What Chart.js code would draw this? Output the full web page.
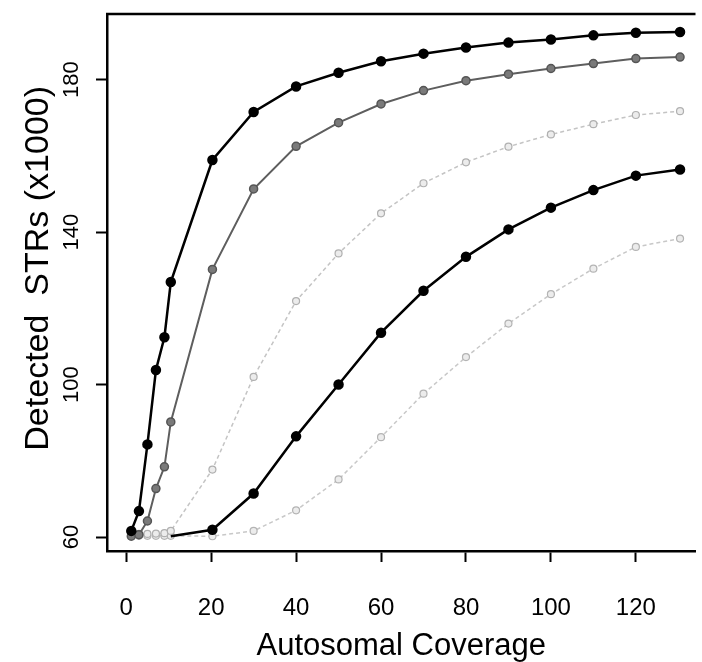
<!DOCTYPE html>
<html>
<head>
<meta charset="utf-8">
<script src="https://cdn.jsdelivr.net/npm/chart.js@4.4.0/dist/chart.umd.min.js"></script>
<style>
  html, body { margin: 0; padding: 0; background: #fff; overflow: hidden; }
  #wrap { width: 702px; height: 662px; }
</style>
</head>
<body>
<div id="wrap"><canvas id="strChart"></canvas></div>
<script>
// coverage values (x) shared by every series
var coverage = [1.2, 3, 5, 7, 9, 10.5, 20.3, 30, 40, 50, 60, 70, 80, 90, 100, 110, 120, 130.4];

// detected STRs (x1000)
var seriesA = [61.6, 66.8, 84.3, 103.8, 112.4, 126.9, 158.9, 171.5, 178.2, 181.8, 184.8, 186.8, 188.4, 189.7, 190.5, 191.6, 192.3, 192.5];
var seriesB = [60.2, 60.6, 64.2, 72.7, 78.4, 90.2, 130.2, 151.3, 162.5, 168.7, 173.6, 177.1, 179.7, 181.4, 182.9, 184.2, 185.5, 185.9];
var seriesC = [60.8, 60.8, 60.8, 60.9, 61.0, 61.6, 77.7, 102.0, 121.9, 134.4, 144.9, 152.8, 158.3, 162.4, 165.6, 168.3, 170.7, 171.7];
var seriesD = [null, null, null, null, null, 60.2, 61.9, 71.4, 86.4, 100.0, 113.6, 124.6, 133.5, 140.7, 146.4, 151.0, 154.8, 156.4];
var seriesE = [60.3, 60.3, 60.3, 60.3, 60.3, 60.3, 60.2, 61.6, 67.0, 75.1, 86.2, 97.6, 107.2, 116.0, 123.7, 130.4, 136.1, 138.3];

var xTicks = [0, 20, 40, 60, 80, 100, 120];
var yTicks = [60, 100, 140, 180];

function pts(values) {
  return coverage.map(function(x, i) { return { x: x, y: values[i] }; });
}

var FONT = '"Liberation Sans", Arial, Helvetica, sans-serif';

// R style frame: top edge of the box (right side is cut off) and
// y tick labels written parallel to the axis
var rFrame = {
  id: 'rFrame',
  afterDraw: function(chart) {
    var a = chart.chartArea, c = chart.ctx, ys = chart.scales.y;
    c.save();
    c.strokeStyle = '#000';
    c.lineWidth = 2.5;
    c.beginPath();
    c.moveTo(a.left - 1, a.top);
    c.lineTo(a.right, a.top);
    c.stroke();

    c.fillStyle = '#000';
    c.font = '22px ' + FONT;
    c.textAlign = 'center';
    c.textBaseline = 'middle';
    yTicks.forEach(function(v) {
      c.save();
      c.translate(ys.left + 72, ys.getPixelForValue(v));
      c.rotate(-Math.PI / 2);
      c.fillText(String(v), 0, 0);
      c.restore();
    });
    c.restore();
  }
};

var ctx = document.getElementById('strChart').getContext('2d');
var myChart = new Chart(ctx, {
  type: 'line',
  data: {
    datasets: [
      {
        data: pts(seriesA),
        borderColor: '#000',
        borderWidth: 2.5,
        pointBackgroundColor: '#000',
        pointBorderColor: '#000',
        pointRadius: 4,
        tension: 0
      },
      {
        data: pts(seriesB),
        borderColor: '#5e5e5e',
        borderWidth: 2,
        pointBackgroundColor: '#7a7a7a',
        pointBorderColor: '#555',
        pointBorderWidth: 1.5,
        pointRadius: 4,
        tension: 0
      },
      {
        data: pts(seriesD),
        borderColor: '#000',
        borderWidth: 2.5,
        pointBackgroundColor: '#000',
        pointBorderColor: '#000',
        // the first point of this curve has no marker in the figure
        pointRadius: function(c) { return c.dataIndex === 5 ? 0 : 4; },
        tension: 0
      },
      {
        data: pts(seriesC),
        borderColor: '#c4c4c4',
        borderWidth: 1.5,
        borderDash: [4, 3],
        pointBackgroundColor: '#ececec',
        pointBorderColor: '#b0b0b0',
        pointBorderWidth: 1.2,
        pointRadius: 3.5,
        tension: 0
      },
      {
        data: pts(seriesE),
        borderColor: '#c8c8c8',
        borderWidth: 1.5,
        borderDash: [4, 3],
        pointBackgroundColor: '#ececec',
        pointBorderColor: '#b4b4b4',
        pointBorderWidth: 1.2,
        pointRadius: 3.5,
        tension: 0
      }
    ]
  },
  options: {
    responsive: true,
    maintainAspectRatio: false,
    animation: false,
    layout: { padding: { top: 14, left: 0, right: 0, bottom: 0 } },
    plugins: {
      legend: { display: false },
      tooltip: { enabled: false }
    },
    scales: {
      x: {
        type: 'linear',
        min: -4.52,
        max: 134.04,
        afterBuildTicks: function(scale) {
          scale.ticks = xTicks.map(function(v) { return { value: v }; });
        },
        afterFit: function(scale) {
          scale.height = 111;
          scale.paddingLeft = 0;
          scale.paddingRight = 0;
        },
        border: { display: true, color: '#000', width: 2.5 },
        grid: {
          drawOnChartArea: false,
          drawTicks: true,
          tickLength: 11,
          tickWidth: 2,
          tickColor: '#000'
        },
        ticks: {
          color: '#000',
          padding: 32,
          maxRotation: 0,
          font: { family: FONT, size: 24 }
        },
        title: {
          display: true,
          text: 'Autosomal Coverage',
          color: '#000',
          padding: { top: 0, bottom: 0 },
          font: { family: FONT, size: 31, lineHeight: 1 }
        }
      },
      y: {
        type: 'linear',
        min: 56.33,
        max: 197.2,
        afterBuildTicks: function(scale) {
          scale.ticks = yTicks.map(function(v) { return { value: v }; });
        },
        afterFit: function(scale) {
          scale.width = 107;
          scale.paddingTop = 0;
          scale.paddingBottom = 0;
        },
        border: { display: true, color: '#000', width: 2.5 },
        grid: {
          drawOnChartArea: false,
          drawTicks: true,
          tickLength: 11,
          tickWidth: 2,
          tickColor: '#000'
        },
        ticks: { display: false },
        title: {
          display: true,
          text: '   Detected  STRs (x1000)',
          color: '#000',
          padding: { top: 18, bottom: 0 },
          font: { family: FONT, size: 34 }
        }
      }
    }
  },
  plugins: [rFrame]
});
</script>
</body>
</html>
